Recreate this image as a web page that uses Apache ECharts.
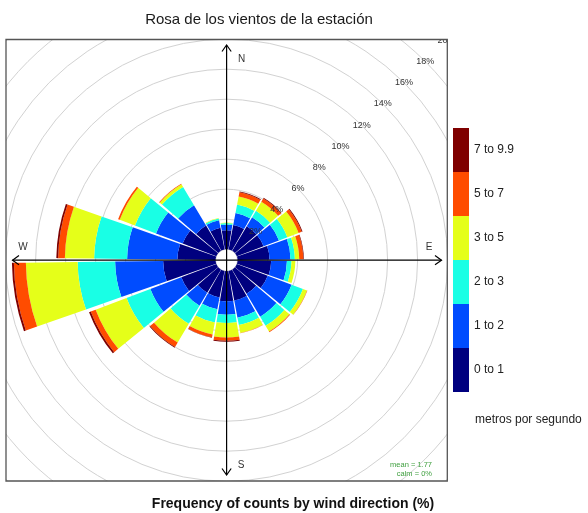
<!DOCTYPE html>
<html><head><meta charset="utf-8">
<script src="https://cdn.jsdelivr.net/npm/echarts@6/dist/echarts.min.js"></script>
<style>html,body{margin:0;padding:0;background:#fff}#c{width:588px;height:513px}</style>
</head><body><div id="c"></div>
<script>
// wind direction sectors (degrees, clockwise from North), 20 deg each
const directions = ['360','20','40','60','80','100','120','140','160','180','200','220','240','260','280','300','320','340'];
const speedBins = ['0 to 1','1 to 2','2 to 3','3 to 5','5 to 7','7 to 9.9'];
const binColors = ['#00007F','#004CFF','#19FFE5','#E5FF19','#FF4C00','#7F0000'];
// frequency (%) for each speed bin, per direction
const freq_0_1  = [1.27,1.65,1.90,1.90,2.13,2.24,2.20,1.87,2.00,2.00,1.80,1.80,2.50,3.50,2.55,2.40,1.95,1.47];
const freq_1_2  = [0.38,0.82,0.70,1.10,1.40,1.05,1.70,1.78,1.17,0.90,0.80,1.00,2.20,3.20,3.35,1.90,1.58,0.51];
const freq_2_3  = [0.10,0.57,0.50,0.60,0.29,0.31,0.81,0.70,0.50,0.55,0.90,1.40,1.70,2.50,2.20,1.50,1.42,0.12];
const freq_3_5  = [0.03,0.54,0.70,0.80,0.29,0.25,0.29,0.45,0.53,0.97,0.80,1.45,2.20,3.45,1.95,1.08,0.20,0.03];
const freq_5_7  = [0.00,0.29,0.25,0.22,0.27,0.00,0.02,0.05,0.02,0.22,0.20,0.35,0.35,0.80,0.45,0.12,0.05,0.00];
const freq_7_99 = [0.00,0.06,0.05,0.06,0.04,0.00,0.00,0.00,0.00,0.06,0.02,0.05,0.12,0.13,0.12,0.00,0.00,0.00];
const binData = [freq_0_1, freq_1_2, freq_2_3, freq_3_5, freq_5_7, freq_7_99];
const ringMax = 20, ringStep = 2;
const titleText = 'Rosa de los vientos de la estación';
const subText = 'Frequency of counts by wind direction (%)';
const unitText = 'metros por segundo';
const meanText = 'mean = 1.77';
const calmText = 'calm = 0%';

const FONT = '"Liberation Sans", Arial, sans-serif';
const cx = 226.6, cy = 260.2;
const box = {x0: 6, y0: 39.5, x1: 447.3, y1: 481};

const chart = echarts.init(document.getElementById('c'), null, {renderer: 'canvas'});

const series = speedBins.map((name, i) => ({
  name: name,
  type: 'bar',
  coordinateSystem: 'polar',
  polarIndex: 0,
  stack: 'speed',
  data: binData[i],
  barCategoryGap: '7%',
  itemStyle: {color: binColors[i]},
  emphasis: {disabled: true},
  z: 2
}));

const W = 'white';
const graphics = [
  // masks outside the plot box
  {type: 'rect', shape: {x: 0, y: 0, width: 588, height: box.y0}, style: {fill: W}, z: 10, silent: true},
  {type: 'rect', shape: {x: 0, y: box.y1, width: 588, height: 513 - box.y1}, style: {fill: W}, z: 10, silent: true},
  {type: 'rect', shape: {x: 0, y: 0, width: box.x0, height: 513}, style: {fill: W}, z: 10, silent: true},
  {type: 'rect', shape: {x: box.x1, y: 0, width: 588 - box.x1, height: 513}, style: {fill: W}, z: 10, silent: true},
  // box border
  {type: 'rect', shape: {x: box.x0, y: box.y0, width: box.x1 - box.x0, height: box.y1 - box.y0},
   style: {fill: null, stroke: '#555', lineWidth: 1.3}, z: 11, silent: true},
  // compass axes with arrows
  {type: 'line', shape: {x1: cx, y1: 45, x2: cx, y2: 475}, style: {stroke: '#000', lineWidth: 1.2}, z: 4},
  {type: 'line', shape: {x1: 12.5, y1: cy, x2: 441.5, y2: cy}, style: {stroke: '#000', lineWidth: 1.2}, z: 4},
  {type: 'polyline', shape: {points: [[cx - 4.6, 51.5], [cx, 45], [cx + 4.6, 51.5]]}, style: {stroke: '#000', lineWidth: 1.2, fill: null}, z: 4},
  {type: 'polyline', shape: {points: [[cx - 4.6, 468.5], [cx, 475], [cx + 4.6, 468.5]]}, style: {stroke: '#000', lineWidth: 1.2, fill: null}, z: 4},
  {type: 'polyline', shape: {points: [[19, cy - 4.6], [12.5, cy], [19, cy + 4.6]]}, style: {stroke: '#000', lineWidth: 1.2, fill: null}, z: 4},
  {type: 'polyline', shape: {points: [[435, cy - 4.6], [441.5, cy], [435, cy + 4.6]]}, style: {stroke: '#000', lineWidth: 1.2, fill: null}, z: 4},
  // compass letters
  {type: 'text', x: 241.5, y: 59, style: {text: 'N', font: '10px ' + FONT, fill: '#333', align: 'center', verticalAlign: 'middle'}, z: 6},
  {type: 'text', x: 429, y: 247, style: {text: 'E', font: '10px ' + FONT, fill: '#333', align: 'center', verticalAlign: 'middle'}, z: 6},
  {type: 'text', x: 241, y: 465, style: {text: 'S', font: '10px ' + FONT, fill: '#333', align: 'center', verticalAlign: 'middle'}, z: 6},
  {type: 'text', x: 23, y: 247, style: {text: 'W', font: '10px ' + FONT, fill: '#333', align: 'center', verticalAlign: 'middle'}, z: 6},
  // mean / calm
  {type: 'text', x: 432, y: 465, style: {text: meanText, font: '7.5px ' + FONT, fill: '#3f9f3f', align: 'right', verticalAlign: 'middle'}, z: 6},
  {type: 'text', x: 432, y: 473.5, style: {text: calmText, font: '7.5px ' + FONT, fill: '#3f9f3f', align: 'right', verticalAlign: 'middle'}, z: 6},
  // titles
  {type: 'text', x: 259, y: 20, style: {text: titleText, font: '15px ' + FONT, fill: '#1a1a1a', align: 'center', verticalAlign: 'middle'}, z: 20},
  {type: 'text', x: 293, y: 504, style: {text: subText, font: 'bold 14px ' + FONT, fill: '#111', align: 'center', verticalAlign: 'middle'}, z: 20},
  {type: 'text', x: 475, y: 420, style: {text: unitText, font: '12px ' + FONT, fill: '#222', align: 'left', verticalAlign: 'middle'}, z: 20}
];

const option = {
  animation: false,
  backgroundColor: '#fff',
  textStyle: {fontFamily: FONT},
  polar: [
    {center: [cx, cy], radius: [11, 311]},
    {center: [cx, cy], radius: [11, 311]}
  ],
  angleAxis: [
    {polarIndex: 0, type: 'category', data: directions, startAngle: 100, clockwise: true, show: false},
    {polarIndex: 1, type: 'value', min: 0, max: 360, startAngle: 45, show: false}
  ],
  radiusAxis: [
    {polarIndex: 0, type: 'value', min: 0, max: ringMax, interval: ringStep,
     axisLine: {show: false}, axisTick: {show: false}, axisLabel: {show: false},
     splitLine: {show: true, lineStyle: {color: '#d2d2d2', width: 1}}, z: 0},
    {polarIndex: 1, type: 'value', min: 0, max: ringMax, interval: ringStep,
     axisLine: {show: false}, axisTick: {show: false}, splitLine: {show: false},
     axisLabel: {show: true, margin: 0, align: 'center', verticalAlign: 'middle', fontSize: 9, color: '#333',
                 formatter: v => (v === 0 ? '' : v + '%')}, z: 5}
  ],
  legend: {
    orient: 'vertical', left: 453, top: 128, padding: 0,
    itemWidth: 16, itemHeight: 44, itemGap: 0, icon: 'rect',
    data: speedBins.slice().reverse(),
    textStyle: {fontSize: 12, color: '#222', fontFamily: FONT},
    selectedMode: false, z: 20
  },
  series: series,
  graphic: {elements: graphics}
};
chart.setOption(option);
</script>
</body></html>
